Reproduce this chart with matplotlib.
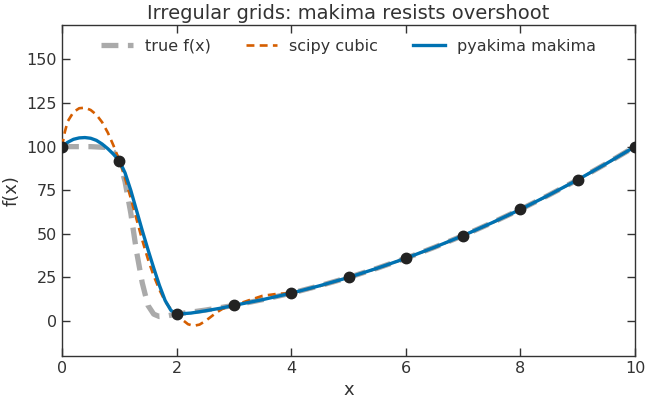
import matplotlib
matplotlib.use("Agg")
import matplotlib.pyplot as plt

# Sample points (knots)
knot_x = [0, 1, 2, 3, 4, 5, 6, 7, 8, 9, 10]
knot_y = [100, 92, 4, 9, 16, 25, 36, 49, 64, 81, 100]

# true f(x)
true_x = [0, 0.5, 0.8, 0.9, 1.0, 1.1, 1.2, 1.3, 1.4, 1.5, 1.6, 1.7, 1.8, 1.9, 2.0,
          2.5, 3, 3.5, 4, 4.5, 5, 5.5, 6, 6.5, 7, 7.5, 8, 8.5, 9, 9.5, 10]
true_y = [100, 100, 99.5, 97, 92, 80, 62, 40, 22, 9, 4, 2.6, 2.8, 3.4, 4,
          6.3, 9, 12.3, 16, 20.3, 25, 30.3, 36, 42.3, 49, 56.3, 64, 72.3, 81, 90.3, 100]

# scipy cubic spline
cubic_x = [0, 0.05, 0.1, 0.2, 0.3, 0.4, 0.5, 0.6, 0.7, 0.8, 0.9, 1.0, 1.1, 1.2, 1.3,
           1.4, 1.5, 1.6, 1.7, 1.8, 1.9, 2.0, 2.1, 2.2, 2.3, 2.4, 2.5, 2.6, 2.7, 2.8,
           2.9, 3.0, 3.25, 3.5, 3.75, 4.0, 4.5, 5, 5.5, 6, 6.5, 7, 7.5, 8, 8.5, 9, 9.5, 10]
cubic_y = [100, 108.5, 114.5, 119.8, 122, 122.3, 121, 118.3, 114, 108, 100.5, 92, 82, 70.5, 58.5,
           46.5, 35.5, 26, 18, 11.3, 6.8, 4, 0.8, -1.8, -2.7, -2.0, 0, 2.5, 5.0, 7.0,
           8.2, 9, 11.8, 14.5, 15.6, 16, 20.1, 25, 30.2, 36, 42.2, 49, 56.2, 64, 72.2, 81, 90.2, 100]

# pyakima makima
makima_x = [0, 0.1, 0.2, 0.3, 0.4, 0.5, 0.6, 0.7, 0.8, 0.9, 1.0, 1.1, 1.2, 1.3, 1.4,
            1.5, 1.6, 1.7, 1.8, 1.9, 2.0, 2.25, 2.5, 2.75, 3.0, 3.5, 4.0, 4.5, 5, 5.5,
            6, 6.5, 7, 7.5, 8, 8.5, 9, 9.5, 10]
makima_y = [100, 102.5, 104.2, 105, 105.2, 104.8, 103.6, 101.5, 98.8, 95.6, 92, 85, 75, 63.5, 52,
            41, 30.5, 20.5, 11.8, 6.2, 4, 4.6, 5.9, 7.3, 9, 12.3, 16, 20.3, 25, 30.3,
            36, 42.3, 49, 56.3, 64, 72.3, 81, 90.3, 100]

TXT = "#333333"
plt.rcParams.update({
    "font.family": ["DejaVu Sans"],
    "text.color": TXT,
    "axes.labelcolor": TXT,
    "xtick.color": TXT,
    "ytick.color": TXT,
    "axes.edgecolor": TXT,
})

fig = plt.figure(figsize=(6.48, 4.03), dpi=100)
ax = fig.add_axes([62 / 648, 1 - 356 / 403, (635 - 62) / 648, (356 - 24.5) / 403])

ax.plot(true_x, true_y, color="#aaaaaa", lw=3.8, ls=(0, (3.2, 1.8)), label="true f(x)", zorder=2)
ax.plot(cubic_x, cubic_y, color="#d55e00", lw=1.9, ls=(0, (3.0, 2.0)), label="scipy cubic", zorder=3)
ax.plot(makima_x, makima_y, color="#0072b2", lw=2.4, label="pyakima makima", zorder=4)
ax.plot(knot_x, knot_y, "o", color="#222222", ms=7.5, zorder=5)

ax.set_xlim(0, 10)
ax.set_ylim(-20, 170)
ax.set_xticks([0, 2, 4, 6, 8, 10])
ax.set_yticks([0, 25, 50, 75, 100, 125, 150])
ax.tick_params(direction="in", length=6, width=1, labelsize=11.5, top=True, right=True, pad=3.5)
for s in ax.spines.values():
    s.set_linewidth(1.0)

ax.set_xlabel("x", fontsize=13, labelpad=4)
ax.set_ylabel("f(x)", fontsize=13, labelpad=4)
ax.set_title("Irregular grids: makima resists overshoot", fontsize=14, pad=4)
ax.legend(loc="upper center", ncol=3, frameon=False, fontsize=11.5, handlelength=2.0,
          handletextpad=0.75, columnspacing=2.2, borderaxespad=0.5)

fig.savefig("out.png", dpi=100)
